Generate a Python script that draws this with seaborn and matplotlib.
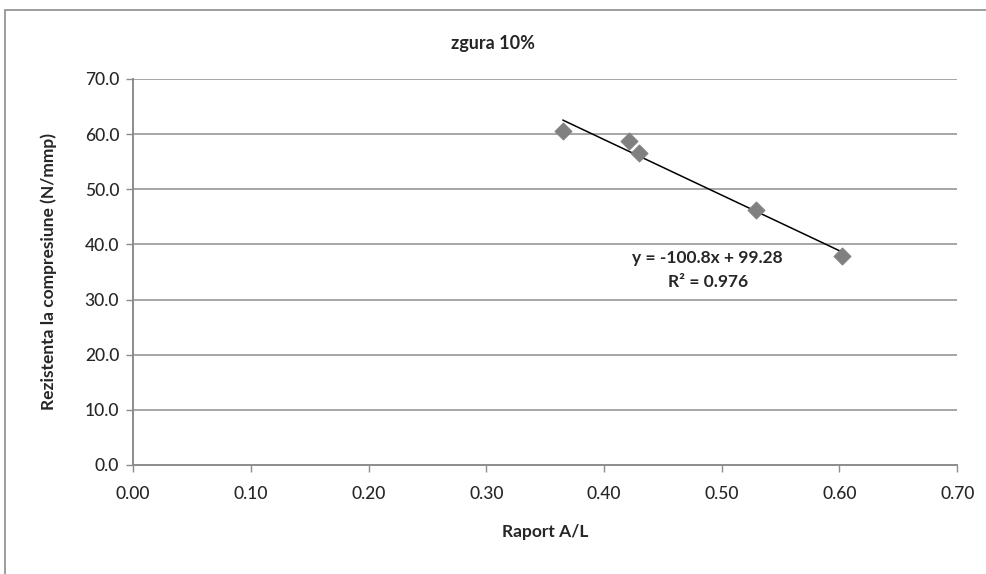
import matplotlib
matplotlib.use("Agg")
import matplotlib.pyplot as plt
import seaborn as sns
import numpy as np
import pandas as pd
from matplotlib.patches import Rectangle

# Data
raport_al = [0.365, 0.421, 0.430, 0.529, 0.602]
rezistenta = [60.6, 58.8, 56.6, 46.2, 37.9]
x_ticks = [0.00, 0.10, 0.20, 0.30, 0.40, 0.50, 0.60, 0.70]
y_ticks = [0.0, 10.0, 20.0, 30.0, 40.0, 50.0, 60.0, 70.0]
title = "zgura 10%"
x_label = "Raport A/L"
y_label = "Rezistenta la compresiune (N/mmp)"
eq_text = "y = -100.8x + 99.28"
r2_text = "R² = 0.976"

df = pd.DataFrame({"x": raport_al, "y": rezistenta})

sns.set_theme(style="white")
plt.rcParams['font.family'] = ['Lato', 'DejaVu Sans']

fig = plt.figure(figsize=(9.87, 5.74), dpi=100)
ax = fig.add_axes([0.1348, 0.19, 0.835, 0.6724])

# outer chart border
fig.patches.append(Rectangle((5/987, -0.01), 1.0, 1 - 10/574 + 0.01,
                             transform=fig.transFigure, fill=False,
                             edgecolor="#8c8c8c", linewidth=1.2))

for yv in y_ticks[1:]:
    ax.axhline(yv, color="#a6a6a6", linewidth=1.4, zorder=0)

sns.regplot(data=df, x="x", y="y", ax=ax, scatter=False, ci=None, truncate=True,
            line_kws=dict(color="black", linewidth=1.1))
sns.scatterplot(data=df, x="x", y="y", ax=ax, marker="D", s=75,
                color="#808080", edgecolor="#808080", zorder=3)

ax.set_xlim(0, 0.70)
ax.set_ylim(0, 70)
ax.set_xticks(x_ticks)
ax.set_xticklabels([f"{v:.2f}" for v in x_ticks], fontsize=12.5, fontweight="medium")
ax.set_yticks(y_ticks)
ax.set_yticklabels([f"{v:.1f}" for v in y_ticks], fontsize=12.5, fontweight="medium")
ax.tick_params(axis="both", direction="out", length=5, width=1, color="#8c8c8c",
               bottom=True, left=True)
ax.tick_params(axis="x", pad=10)
ax.tick_params(axis="y", pad=5)

for s in ["top", "right"]:
    ax.spines[s].set_visible(False)
for s in ["left", "bottom"]:
    ax.spines[s].set_color("#8c8c8c")
    ax.spines[s].set_linewidth(1.4)

ax.set_xlabel(x_label, fontsize=12.5, fontweight="bold", labelpad=16)
ax.set_ylabel(y_label, fontsize=12.5, fontweight="bold", labelpad=20)
fig.text(0.5, 1 - 43/574, title, ha="center", va="center", fontsize=13, fontweight="bold")

ax.text(0.488, 37.6, eq_text, ha="center", va="center", fontsize=12.5, fontweight="bold")
ax.text(0.488, 33.2, r2_text, ha="center", va="center", fontsize=12.5, fontweight="bold")

fig.savefig("out.png", dpi=100)
